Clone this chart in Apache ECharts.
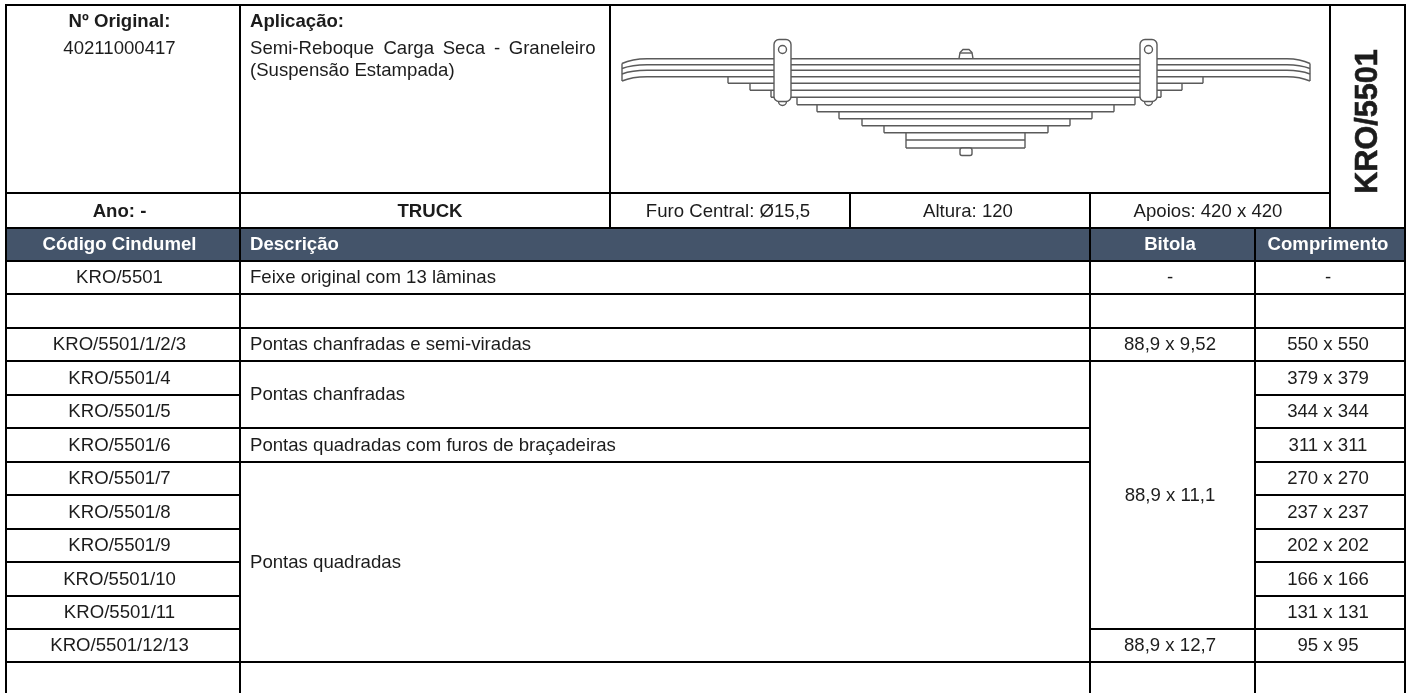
<!DOCTYPE html>
<html><head><meta charset="utf-8">
<style>html,body{margin:0;padding:0;background:#fff}#c{width:1408px;height:693px}</style>
<script src="https://cdn.jsdelivr.net/npm/echarts@6/dist/echarts.min.js"></script></head>
<body><div id="c"></div>
<script>
// ---- table content ----
const headers = ['Código Cindumel', 'Descrição', 'Bitola', 'Comprimento'];
const codes = ['KRO/5501', '', 'KRO/5501/1/2/3', 'KRO/5501/4', 'KRO/5501/5', 'KRO/5501/6', 'KRO/5501/7', 'KRO/5501/8', 'KRO/5501/9', 'KRO/5501/10', 'KRO/5501/11', 'KRO/5501/12/13', ''];
const descriptions = [['Feixe original com 13 lâminas', 1], ['', 1], ['Pontas chanfradas e semi-viradas', 1], ['Pontas chanfradas', 2], ['Pontas quadradas com furos de braçadeiras', 1], ['Pontas quadradas', 6], ['', 1]];
const gauges = [['-', 1], ['', 1], ['88,9 x 9,52', 1], ['88,9 x 11,1', 8], ['88,9 x 12,7', 1], ['', 1]];
const lengths = ['-', '', '550 x 550', '379 x 379', '344 x 344', '311 x 311', '270 x 270', '237 x 237', '202 x 202', '166 x 166', '131 x 131', '95 x 95', ''];
const infoBottom = ['TRUCK', 'Furo Central: Ø15,5', 'Altura: 120', 'Apoios: 420 x 420'];
const sideCode = 'KRO/5501';

// ---- spring drawing readings ----
const leafLineY = [58.7, 64.7, 70.3, 76.7, 83.3, 90.3, 97.3, 104.7, 111.7, 118.7, 125.7, 132.7, 140, 148];
const leafEndLeft = [647, 647, 647, 647, 728, 750, 771, 797, 817, 839, 862, 884, 906, 906];
const leafEndRight = [1287, 1287, 1287, 1287, 1203, 1182, 1161, 1135, 1114, 1092, 1070, 1048, 1025, 1025];
const tipY = [63.5, 68.5, 74, 81];
const tipX = [622, 1310];
const clampX = [[774, 791], [1140, 1157]];

// ---- layout ----
const colX = [6, 240, 1090, 1255, 1405];
const colTextX = [119.5, 250, 1170, 1328];
const topColX = [6, 240, 610, 1330, 1405];
const infoColX = [240, 610, 850, 1090, 1330];
const infoTextX = [430, 728, 968, 1208];
const rowY = [261, 294, 328, 361, 395, 428, 462, 495, 529, 562, 596, 629, 662, 700];
const topY = [5, 193, 228, 261];
const FS = 18.6, DARK = '#1c1c1c', HEAD = '#44546A', LINE = '#000', INK = '#5a5a5a';
const FONT = 'Liberation Sans, Arial, sans-serif';
const BODY_DY = 0.7;

// cells: [x0,y0,x1,y1,fill]
const cells = [];
const labels = [];
function addLabel(x, y, text, align, bold, color, size, rot) { if (text) labels.push({x, y, text, align, bold, color, size, rot}); }
function cell(x0, y0, x1, y1, fill) { cells.push([x0, y0, x1, y1, fill || '#fff']); }
const mid = (a, b) => (a + b) / 2;

cell(topColX[0], topY[0], topColX[1], topY[1]);
cell(topColX[1], topY[0], topColX[2], topY[1]);
cell(topColX[2], topY[0], topColX[3], topY[1]);
cell(topColX[3], topY[0], topColX[4], topY[2]);
cell(colX[0], topY[1], colX[1], topY[2]);
infoColX.slice(0, -1).forEach((x, i) => cell(x, topY[1], infoColX[i + 1], topY[2]));
colX.slice(0, -1).forEach((x, i) => cell(x, topY[2], colX[i + 1], topY[3], HEAD));

addLabel(colTextX[0], 22, 'Nº Original:', 'center', true);
addLabel(colTextX[0], 49, '40211000417', 'center');
addLabel(250, 22, 'Aplicação:', 'left', true);
const justified = [['Semi-Reboque', 250], ['Carga', 383.4], ['Seca', 442.7], ['-', 494], ['Graneleiro', 508.7]];
justified.forEach(w => addLabel(w[1], 49, w[0], 'left'));
addLabel(250, 71, '(Suspensão Estampada)', 'left');
addLabel(colTextX[0], 211.5, 'Ano: -', 'center', true);
addLabel(infoTextX[0], 211.5, infoBottom[0], 'center', true);
infoBottom.slice(1).forEach((t, i) => addLabel(infoTextX[i + 1], 212, t, 'center'));
addLabel(1368.5, 121.5, sideCode, 'center', true, DARK, 30.6, true);

headers.forEach((h, i) => addLabel(colTextX[i], 244.5, h, i === 1 ? 'left' : 'center', true, '#fff'));

codes.forEach((t, i) => {
  cell(colX[0], rowY[i], colX[1], rowY[i + 1]);
  addLabel(colTextX[0], mid(rowY[i], rowY[i + 1]) + BODY_DY, t, 'center');
  cell(colX[3], rowY[i], colX[4], rowY[i + 1]);
  addLabel(colTextX[3], mid(rowY[i], rowY[i + 1]) + BODY_DY, lengths[i], 'center');
});
let r = 0;
descriptions.forEach(d => {
  cell(colX[1], rowY[r], colX[2], rowY[r + d[1]]);
  addLabel(colTextX[1], mid(rowY[r], rowY[r + d[1]]) + BODY_DY, d[0], 'left');
  r += d[1];
});
r = 0;
gauges.forEach(d => {
  cell(colX[2], rowY[r], colX[3], rowY[r + d[1]]);
  addLabel(colTextX[2], mid(rowY[r], rowY[r + d[1]]) + BODY_DY, d[0], 'center');
  r += d[1];
});

// spring shapes as lists of points or primitives
const seg = [];
leafLineY.forEach((y, i) => seg.push({t: 'l', p: [[leafEndLeft[i], y], [leafEndRight[i], y]]}));
for (let i = 4; i < leafLineY.length; i++) {
  const a = i - 1;
  const xL = leafEndLeft[i], xR = leafEndRight[i];
  seg.push({t: 'l', p: [[xL, leafLineY[a]], [xL, leafLineY[i]]]});
  seg.push({t: 'l', p: [[xR, leafLineY[a]], [xR, leafLineY[i]]]});
}
tipY.forEach((ty, i) => {
  seg.push({t: 'q', p: [[647, leafLineY[i]], [632, leafLineY[i]], [tipX[0], ty]]});
  seg.push({t: 'q', p: [[1287, leafLineY[i]], [1300, leafLineY[i]], [tipX[1], ty]]});
});
seg.push({t: 'l', p: [[tipX[0], tipY[0]], [tipX[0], tipY[3]]]});
seg.push({t: 'l', p: [[tipX[1], tipY[0]], [tipX[1], tipY[3]]]});
// bolt
seg.push({t: 'p', p: [[959, 58.7], [960, 52.5], [963, 49.5], [969, 49.5], [972, 52.5], [973, 58.7]]});
seg.push({t: 'l', p: [[960, 53], [972, 53]]});
seg.push({t: 'r', p: [[960, 148], [972, 155.5]], r: 2});
// clamps
clampX.forEach(c => {
  const m = mid(c[0], c[1]);
  seg.push({t: 'c', p: [[m, 101.5]], r: 4});
  seg.push({t: 'r', p: [[c[0], 39.5], [c[1], 101.5]], r: 5});
  seg.push({t: 'c', p: [[m, 49.5]], r: 4});
});

function textItem(api, d) {
  const pt = api.coord([d.x, d.y]);
  const style = {
    x: 0, y: 0, text: d.text, fill: d.color || DARK,
    font: (d.bold ? 'bold ' : '') + (d.size || FS) + 'px ' + FONT,
    align: d.align, verticalAlign: 'middle'
  };
  if (d.rot) { style.stroke = DARK; style.lineWidth = 0.6; }
  return {type: 'text', x: pt[0], y: pt[1], rotation: d.rot ? Math.PI / 2 : 0, style};
}

const option = {
  animation: false,
  backgroundColor: '#fff',
  grid: {left: 0, right: 0, top: 0, bottom: 0},
  xAxis: {type: 'value', min: 0, max: 1408, show: false},
  yAxis: {type: 'value', min: 0, max: 693, inverse: true, show: false},
  tooltip: {show: false},
  series: [
    {
      type: 'custom', coordinateSystem: 'cartesian2d', silent: true, clip: false, z: 1,
      data: cells,
      encode: {x: [0, 2], y: [1, 3]},
      renderItem(params, api) {
        const c = cells[params.dataIndex];
        const a = api.coord([c[0], c[1]]), b = api.coord([c[2], c[3]]);
        return {type: 'rect', shape: {x: a[0], y: a[1], width: b[0] - a[0], height: b[1] - a[1]},
          style: {fill: c[4], stroke: LINE, lineWidth: 2}};
      }
    },
    {
      type: 'custom', coordinateSystem: 'cartesian2d', silent: true, clip: false, z: 2,
      data: seg.map((s, i) => [s.p[0][0], s.p[0][1], i]),
      renderItem(params, api) {
        const s = seg[params.dataIndex];
        const P = s.p.map(q => api.coord(q));
        const st = {stroke: INK, lineWidth: 1.4, fill: null};
        if (s.t === 'l') return {type: 'line', shape: {x1: P[0][0], y1: P[0][1], x2: P[1][0], y2: P[1][1]}, style: st};
        if (s.t === 'p') return {type: 'polyline', shape: {points: P}, style: st};
        if (s.t === 'q') return {type: 'bezierCurve', shape: {x1: P[0][0], y1: P[0][1], cpx1: P[1][0], cpy1: P[1][1], x2: P[2][0], y2: P[2][1]}, style: st};
        if (s.t === 'r') return {type: 'rect', shape: {x: P[0][0], y: P[0][1], width: P[1][0] - P[0][0], height: P[1][1] - P[0][1], r: s.r}, style: {stroke: INK, lineWidth: 1.4, fill: '#fff'}};
        return {type: 'circle', shape: {cx: P[0][0], cy: P[0][1], r: s.r}, style: {stroke: INK, lineWidth: 1.4, fill: '#fff'}};
      }
    },
    {
      type: 'custom', coordinateSystem: 'cartesian2d', silent: true, clip: false, z: 3,
      data: labels.map(l => [l.x, l.y]),
      renderItem(params, api) { return textItem(api, labels[params.dataIndex]); }
    }
  ]
};
echarts.init(document.getElementById('c'), null, {renderer: 'canvas'}).setOption(option);
</script></body></html>
